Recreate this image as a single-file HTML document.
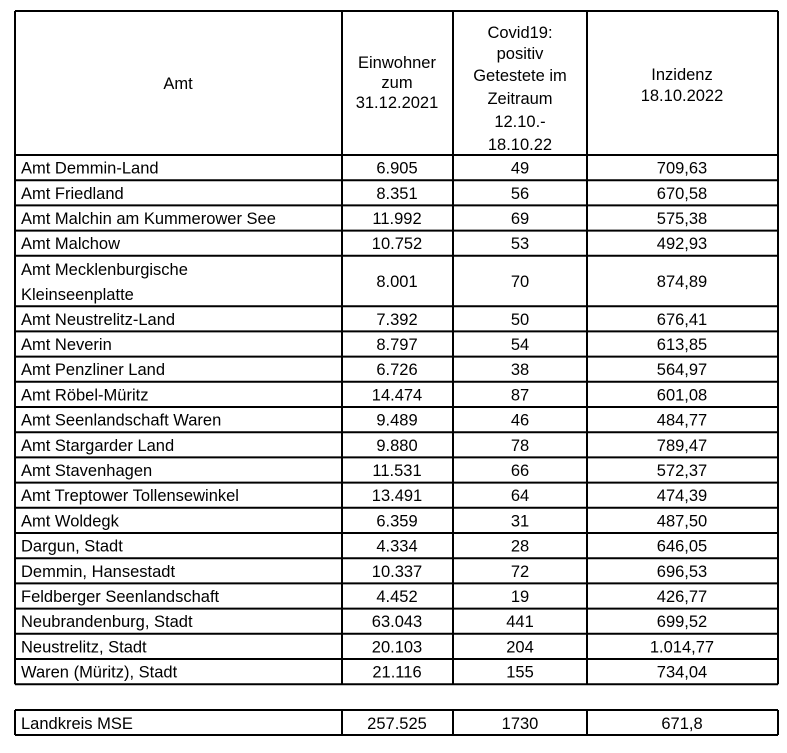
<!DOCTYPE html>
<html><head><meta charset="utf-8"><style>
body{margin:0;background:#fff;}
svg text{font-family:"Liberation Sans",Arial,sans-serif;font-size:16.5px;fill:#000;}
</style></head><body>
<svg width="787" height="748" xmlns="http://www.w3.org/2000/svg">
</svg>
<script>
const svg=document.querySelector('svg');
const NS='http://www.w3.org/2000/svg';
function line(x1,y1,x2,y2){const l=document.createElementNS(NS,'line');l.setAttribute('x1',x1);l.setAttribute('y1',y1);l.setAttribute('x2',x2);l.setAttribute('y2',y2);l.setAttribute('stroke','#000');l.setAttribute('stroke-width','2');svg.appendChild(l);}
function text(x,y,s,anchor){const t=document.createElementNS(NS,'text');t.setAttribute('x',x);t.setAttribute('y',y);if(anchor)t.setAttribute('text-anchor',anchor);t.textContent=s;svg.appendChild(t);}
const X=[15,342,453,587,778];
const rows=[
["Amt Demmin-Land","6.905","49","709,63"],
["Amt Friedland","8.351","56","670,58"],
["Amt Malchin am Kummerower See","11.992","69","575,38"],
["Amt Malchow","10.752","53","492,93"],
[["Amt Mecklenburgische","Kleinseenplatte"],"8.001","70","874,89"],
["Amt Neustrelitz-Land","7.392","50","676,41"],
["Amt Neverin","8.797","54","613,85"],
["Amt Penzliner Land","6.726","38","564,97"],
["Amt Röbel-Müritz","14.474","87","601,08"],
["Amt Seenlandschaft Waren","9.489","46","484,77"],
["Amt Stargarder Land","9.880","78","789,47"],
["Amt Stavenhagen","11.531","66","572,37"],
["Amt Treptower Tollensewinkel","13.491","64","474,39"],
["Amt Woldegk","6.359","31","487,50"],
["Dargun, Stadt","4.334","28","646,05"],
["Demmin, Hansestadt","10.337","72","696,53"],
["Feldberger Seenlandschaft","4.452","19","426,77"],
["Neubrandenburg, Stadt","63.043","441","699,52"],
["Neustrelitz, Stadt","20.103","204","1.014,77"],
["Waren (Müritz), Stadt","21.116","155","734,04"]];
const H=25.2;
let y=155;
line(X[0],11,X[4],11);
line(X[0],y,X[4],y);
text(178,89,"Amt","middle");
[["Einwohner",68],["zum",88],["31.12.2021",108]].forEach(a=>text(397,a[1],a[0],"middle"));
[["Covid19:",38],["positiv",59],["Getestete im",81],["Zeitraum",104],["12.10.-",127],["18.10.22",150]].forEach(a=>text(520,a[1],a[0],"middle"));
[["Inzidenz",80],["18.10.2022",101]].forEach(a=>text(682,a[1],a[0],"middle"));
rows.forEach(r=>{
 const h=Array.isArray(r[0])?2*H:H;
 const cy=y+h/2+6;
 if(Array.isArray(r[0])){text(21,y+19,r[0][0]);text(21,y+44,r[0][1]);}
 else text(21,cy,r[0]);
 text(397,cy,r[1],"middle");text(520,cy,r[2],"middle");text(682,cy,r[3],"middle");
 y+=h; line(X[0],y,X[4],y);
});
X.forEach(x=>line(x,11,x,y));
line(X[0],710,X[4],710);line(X[0],735,X[4],735);
X.forEach(x=>line(x,710,x,735));
text(21,729,"Landkreis MSE");text(397,729,"257.525","middle");text(520,729,"1730","middle");text(682,729,"671,8","middle");
</script>
</body></html>
